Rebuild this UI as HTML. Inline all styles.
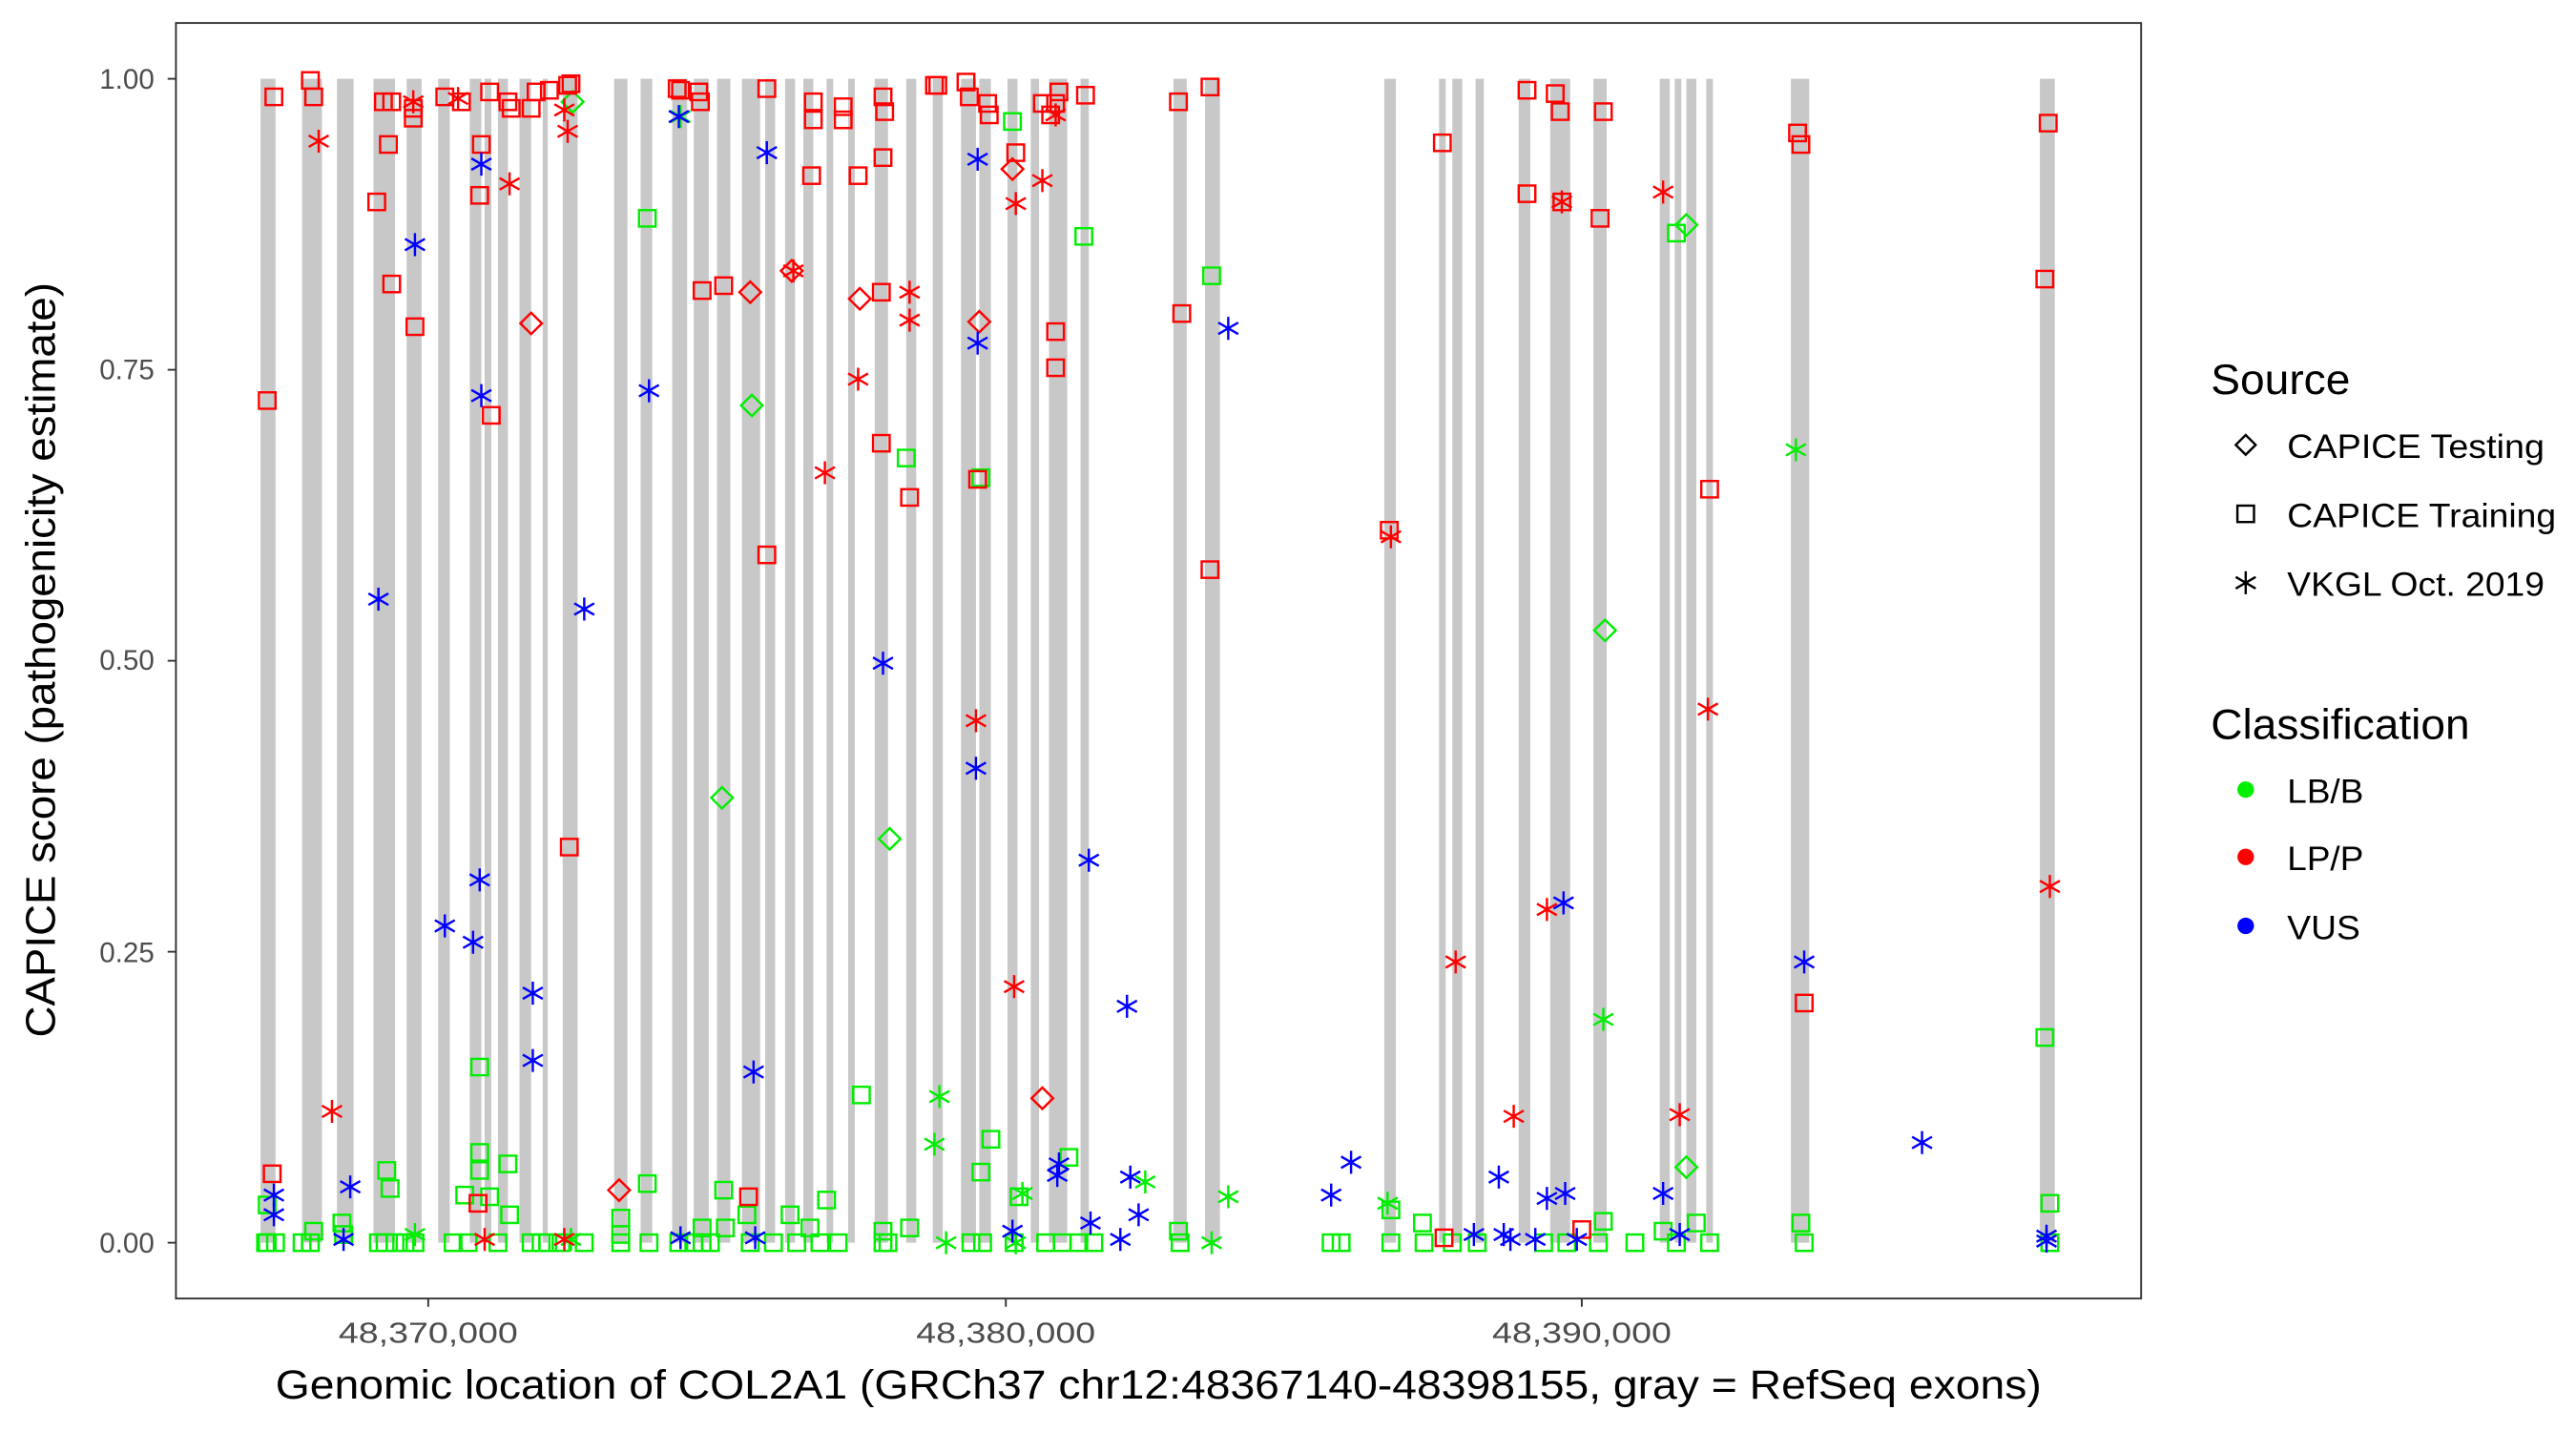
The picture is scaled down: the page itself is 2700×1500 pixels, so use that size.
<!DOCTYPE html>
<html><head><meta charset="utf-8"><style>html,body{margin:0;padding:0;background:#fff}svg{display:block}</style></head>
<body>
<svg id="s" width="2700" height="1500" viewBox="0 0 1552 871.7" preserveAspectRatio="none" xmlns="http://www.w3.org/2000/svg" font-family="Liberation Sans, Arial, sans-serif">
<rect x="0" y="0" width="1552" height="872" fill="#fff"/>
<g id="bars" fill="#c8c8c8"></g>
<g id="pts" fill="none" stroke-width="1.4"></g>
<rect x="106" y="14" width="1184" height="777" fill="none" stroke="#333" stroke-width="1.1"/>
<g stroke="#333" stroke-width="1.1">
<line x1="101" x2="106" y1="48" y2="48"/><line x1="101" x2="106" y1="225.25" y2="225.25"/><line x1="101" x2="106" y1="402.5" y2="402.5"/><line x1="101" x2="106" y1="579.75" y2="579.75"/><line x1="101" x2="106" y1="757" y2="757"/>
<line x1="258" x2="258" y1="791" y2="796"/><line x1="606" x2="606" y1="791" y2="796"/><line x1="953" x2="953" y1="791" y2="796"/>
</g>
<g fill="#4d4d4d" font-size="17" text-anchor="end">
<text x="93" y="54">1.00</text><text x="93" y="231">0.75</text><text x="93" y="408">0.50</text><text x="93" y="586">0.25</text><text x="93" y="763">0.00</text>
</g>
<g fill="#4d4d4d" font-size="18">
<text x="204" y="818" textLength="108" lengthAdjust="spacingAndGlyphs">48,370,000</text><text x="552" y="818" textLength="108" lengthAdjust="spacingAndGlyphs">48,380,000</text><text x="899" y="818" textLength="108" lengthAdjust="spacingAndGlyphs">48,390,000</text>
</g>
<text x="166" y="852" font-size="25" textLength="1064" lengthAdjust="spacingAndGlyphs" fill="#000">Genomic location of COL2A1 (GRCh37 chr12:48367140-48398155, gray = RefSeq exons)</text>
<text transform="translate(33,632) rotate(-90)" font-size="25" textLength="460" lengthAdjust="spacingAndGlyphs" fill="#000">CAPICE score (pathogenicity estimate)</text>
<g fill="#000">
<text x="1332" y="240" font-size="26" textLength="84" lengthAdjust="spacingAndGlyphs">Source</text>
<path d="M1353,265 L1359,271 L1353,277 L1347,271 Z" fill="none" stroke="#000" stroke-width="1.4"/>
<text x="1378" y="279" font-size="20.5" textLength="155" lengthAdjust="spacingAndGlyphs">CAPICE Testing</text>
<rect x="1348" y="308" width="10" height="10" fill="none" stroke="#000" stroke-width="1.4"/>
<text x="1378" y="321" font-size="20.5" textLength="162" lengthAdjust="spacingAndGlyphs">CAPICE Training</text>
<g stroke="#000" stroke-width="1.4"><line x1="1353" x2="1353" y1="348" y2="362"/><line x1="1347" x2="1359" y1="351.5" y2="358.5"/><line x1="1347" x2="1359" y1="358.5" y2="351.5"/></g>
<text x="1378" y="363" font-size="20.5" textLength="155" lengthAdjust="spacingAndGlyphs">VKGL Oct. 2019</text>
<text x="1332" y="450" font-size="26" textLength="156" lengthAdjust="spacingAndGlyphs">Classification</text>
<circle cx="1353" cy="481" r="5" fill="#00ee00"/><text x="1378" y="489" font-size="20.5" textLength="46" lengthAdjust="spacingAndGlyphs">LB/B</text>
<circle cx="1353" cy="522" r="5" fill="#ff0000"/><text x="1378" y="530" font-size="20.5" textLength="46" lengthAdjust="spacingAndGlyphs">LP/P</text>
<circle cx="1353" cy="564" r="5" fill="#0000ff"/><text x="1378" y="572" font-size="20.5" textLength="44" lengthAdjust="spacingAndGlyphs">VUS</text>
</g>
</svg>
<script>
var NS="http://www.w3.org/2000/svg";
var bars=[[157,166],[182,194],[203,213],[225,238],[245,254],[264,271],[283,290],[292,296],[300,306],[313,320],[327,330],[339,348],[370,378],[386,393],[405,414],[418,427],[432,440],[447,458],[461,467],[473,479],[484,490],[498,502],[511,515],[527,535],[546,552],[562,568],[579,588],[590,597],[607,613],[621,626],[632,643],[651,656],[707,715],[726,735],[834,841],[867,871],[875,881],[889,894],[915,922],[934,946],[960,968],[1000,1006],[1009,1013],[1016,1022],[1028,1032],[1079,1090],[1229,1238]];
var bg=document.getElementById('bars');
bars.forEach(function(b){var r=document.createElementNS(NS,'rect');r.setAttribute('x',b[0]);r.setAttribute('width',b[1]-b[0]);r.setAttribute('y',48);r.setAttribute('height',709);bg.appendChild(r);});
var C={r:'#ff0000',g:'#00ee00',b:'#0000ff'};
var D={
'sr':[[161,244],[165,59],[187,49],[189,59],[227,123],[231,62],[236,62],[234,88],[236,173],[249,66],[249,72],[250,199],[268,59],[278,62],[289,119],[290,88],[295,56],[296,253],[306,62],[308,66],[320,66],[323,56],[331,55],[342,52],[344,51],[343,516],[408,54],[410,55],[421,56],[422,62],[423,177],[436,174],[462,54],[462,338],[489,107],[490,62],[490,73],[508,65],[508,73],[517,107],[532,96],[532,59],[533,68],[531,178],[531,270],[548,303],[563,52],[565,52],[582,50],[584,59],[595,63],[596,70],[612,93],[628,63],[633,70],[636,63],[638,56],[636,202],[636,224],[654,58],[710,62],[712,191],[729,53],[729,347],[451,729],[164,715],[869,87],[920,55],[920,118],[937,57],[940,68],[941,123],[964,133],[966,68],[1030,298],[1083,81],[1085,88],[1087,611],[1234,75],[1232,170],[837,323],[953,749],[288,733],[870,754],[589,292]],
'dr':[[320,197],[452,178],[518,182],[590,196],[610,103],[628,669],[373,725],[477,165]],
'ar':[[192,86],[200,677],[249,62],[276,60],[307,112],[340,67],[342,80],[340,755],[292,755],[497,288],[517,231],[548,178],[548,195],[478,165],[588,439],[611,601],[612,124],[628,110],[636,70],[838,327],[877,586],[912,680],[932,554],[941,123],[1002,117],[1012,679],[1029,432],[1235,540]],
'ab':[[165,728],[165,740],[207,755],[211,723],[228,365],[250,149],[268,564],[285,574],[289,536],[290,241],[290,100],[321,605],[321,646],[352,371],[391,238],[409,71],[410,754],[454,653],[455,754],[462,93],[532,404],[589,97],[589,209],[588,468],[610,750],[637,716],[638,709],[656,524],[657,745],[675,755],[679,613],[681,717],[686,740],[740,200],[802,728],[814,708],[888,752],[903,717],[906,752],[910,755],[925,755],[932,730],[942,550],[943,727],[950,755],[1002,727],[1012,752],[1087,586],[1158,696],[1233,756],[1233,753]],
'sg':[[161,734],[161,757],[187,757],[189,750],[206,745],[207,752],[233,713],[235,724],[232,757],[238,757],[250,757],[280,728],[289,650],[289,702],[289,713],[295,729],[306,709],[307,740],[330,757],[352,757],[374,742],[374,752],[390,721],[390,133],[391,757],[409,757],[423,748],[423,757],[436,725],[437,748],[450,740],[452,757],[476,740],[488,748],[498,731],[519,667],[532,757],[532,750],[546,279],[548,748],[591,291],[591,714],[597,694],[592,757],[611,757],[614,729],[640,757],[644,705],[653,144],[659,757],[710,750],[711,757],[730,168],[802,757],[808,757],[838,737],[838,757],[857,745],[858,757],[875,757],[963,757],[966,744],[985,757],[1002,750],[1010,142],[1022,745],[1030,757],[1085,745],[1087,757],[1232,632],[1235,733],[1235,757],[610,74],[428,757],[466,757],[505,757],[273,757],[320,757],[338,757],[160,757],[166,757],[182,757],[228,757],[244,757],[282,757],[300,757],[326,757],[374,757],[418,757],[480,757],[494,757],[535,757],[585,757],[630,757],[650,757],[890,757],[930,757],[944,757],[1010,757]],
'dg':[[345,62],[453,247],[435,486],[536,511],[967,384],[1016,137],[1016,711]],
'ag':[[410,71],[563,697],[566,668],[616,727],[690,720],[740,729],[730,757],[836,733],[966,621],[1082,274],[344,755],[570,757],[612,757],[250,752]]
};
var pg=document.getElementById('pts');
function add(tag,attrs,col){var e=document.createElementNS(NS,tag);for(var k in attrs)e.setAttribute(k,attrs[k]);e.setAttribute('stroke',col);pg.appendChild(e);}
['sg','dg','ag','sr','dr','ar','ab'].forEach(function(key){
 var shape=key[0],col=C[key[1]];
 D[key].forEach(function(p){var x=p[0],y=p[1];
  if(shape=='s')add('rect',{x:x-5,y:y-5,width:10,height:10},col);
  else if(shape=='d')add('path',{d:'M'+x+','+(y-6.5)+' L'+(x+6.5)+','+y+' L'+x+','+(y+6.5)+' L'+(x-6.5)+','+y+' Z'},col);
  else add('path',{d:'M'+x+','+(y-7)+' L'+x+','+(y+7)+' M'+(x-6)+','+(y-3.5)+' L'+(x+6)+','+(y+3.5)+' M'+(x-6)+','+(y+3.5)+' L'+(x+6)+','+(y-3.5)},col);
 });
});
</script>
</body></html>
